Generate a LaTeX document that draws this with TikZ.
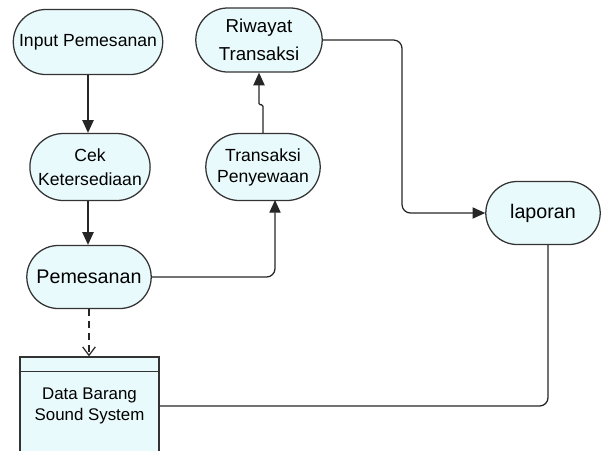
\documentclass[tikz,border=0pt]{standalone}
\usepackage{fontspec}
\setmainfont{Liberation Sans}
\usetikzlibrary{shapes.misc, arrows.meta, calc}
\definecolor{boxfill}{HTML}{E9FAFC}
\definecolor{boxline}{HTML}{333333}
\tikzstyle{proc} = [rounded rectangle, draw=boxline, line width=0.9pt, fill=boxfill, align=center, inner sep=2pt]
\tikzstyle{store} = [rectangle, draw=boxline, line width=0.9pt, fill=boxfill, align=center]
\tikzstyle{arrow} = [line width=0.9pt, draw=black!85, ->, >={Triangle[length=9pt,width=8pt]}, rounded corners=6pt]
\tikzstyle{link} = [line width=0.9pt, draw=black!85, rounded corners=6pt]

\begin{document}
\begin{tikzpicture}[x=0.025cm, y=-0.025cm]
            \useasboundingbox (0,0) rectangle (602,450);

            \node (inp)  [proc, minimum width=3.875cm, minimum height=1.625cm, font=\fontsize{12.5}{16}\selectfont] at (88,42)  {Input Pemesanan};
            \node (cek)  [proc, minimum width=3.0cm, minimum height=1.675cm, font=\fontsize{12.5}{17}\selectfont]   at (90,167) {Cek\\Ketersediaan};
            \node (pes)  [proc, minimum width=3.25cm, minimum height=1.575cm, font=\fontsize{14}{17}\selectfont]    at (89,277) {Pemesanan};
            \node (riw)  [proc, minimum width=3.3cm, minimum height=1.6cm, font=\fontsize{13.3}{20}\selectfont]     at (259,40) {Riwayat\\Transaksi};
            \node (trx)  [proc, minimum width=3.0cm, minimum height=1.675cm, font=\fontsize{12.5}{15}\selectfont]   at (263,167) {Transaksi\\Penyewaan};
            \node (lap)  [proc, minimum width=3.0cm, minimum height=1.575cm, font=\fontsize{14}{17}\selectfont]     at (543,213) {laporan};
            \node (data) [store, minimum width=3.475cm, minimum height=2.45cm, font=\fontsize{12}{14.5}\selectfont] at (89.5,406) {Data Barang\\Sound System};
            \draw [boxline, line width=0.9pt] ($(data.north west)+(0,15)$) -- ($(data.north east)+(0,15)$);

            \coordinate (bendA) at (402,40);
            \coordinate (inTrx) at (275,200);

            \draw [arrow] (inp.south) -- (inp.south |- cek.north);
            \draw [arrow] (cek.south -| inp.south) -- (inp.south |- pes.north);
            \draw [arrow, dash pattern=on 5pt off 3.5pt, >={Straight Barb[length=6pt,width=9pt]}] (pes.south) -- (data.north -| pes.south);
            \draw [arrow] (pes.east) -| (inTrx);
            \draw [arrow, rounded corners=1pt] (trx.north) -- ++(0,-28) -| (riw.south);
            \draw [arrow] (riw.east) -- (bendA) |- (lap.west);
            \draw [link] ($(lap.south)+(5,0)$) |- (data.east);
        \end{tikzpicture}
\end{document}
